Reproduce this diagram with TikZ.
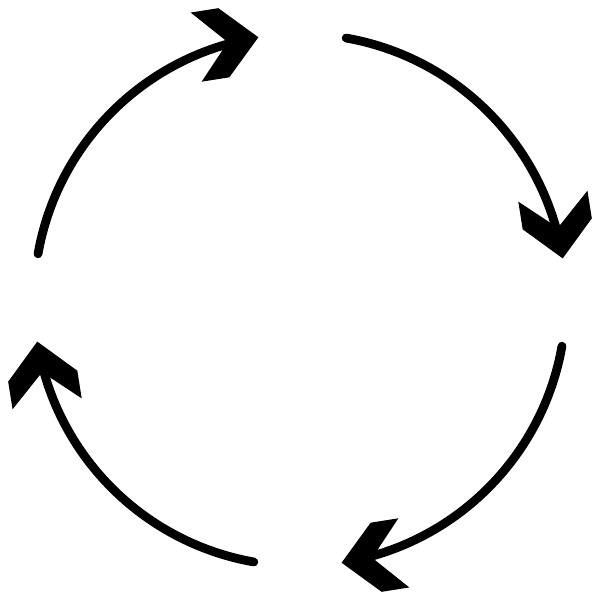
\documentclass[tikz,border=0pt]{standalone}

\tikzset{
  cycleline/.style={line width=5pt, line cap=round},
  chevron/.pic={\fill (0,0) -- (-0.7,0.7) -- (-1.26,0.7) -- (-0.62,0) -- (-1.26,-0.7) -- (-0.7,-0.7) -- cycle;}
}

\begin{document}
\begin{tikzpicture}
\useasboundingbox (-6,-6) rectangle (6,6);

\coordinate (start1) at (170:5.32);
\coordinate (tip1) at (99:5.32);
\coordinate (start2) at (80:5.32);
\coordinate (tip2) at (9:5.32);
\coordinate (start3) at (-10:5.32);
\coordinate (tip3) at (-81:5.32);
\coordinate (start4) at (-100:5.32);
\coordinate (tip4) at (-171:5.32);

\draw[cycleline] (start1) arc[start angle=170, end angle=104, radius=5.32];
\draw[cycleline] (start2) arc[start angle=80, end angle=14, radius=5.32];
\draw[cycleline] (start3) arc[start angle=-10, end angle=-76, radius=5.32];
\draw[cycleline] (start4) arc[start angle=-100, end angle=-166, radius=5.32];

\pic[rotate=9] at (tip1) {chevron};
\pic[rotate=-81] at (tip2) {chevron};
\pic[rotate=-171] at (tip3) {chevron};
\pic[rotate=99] at (tip4) {chevron};
\end{tikzpicture}
\end{document}
